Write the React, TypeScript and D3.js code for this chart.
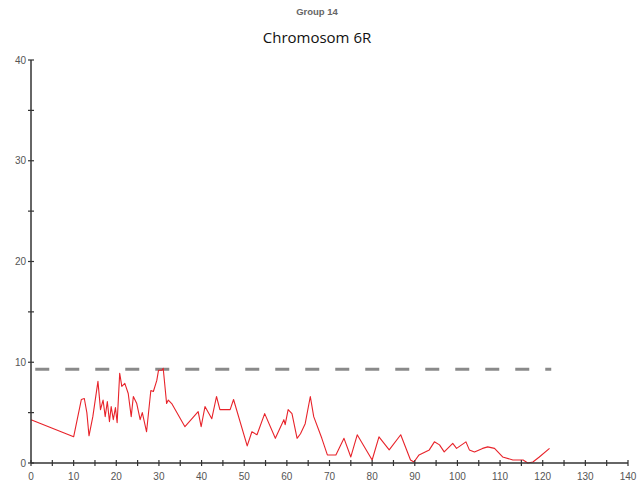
import React from "react";
import * as d3 from "d3";

// LOD profile along chromosome 6R (position in cM, LOD score)
const positions = [0, 10, 11.8, 12.5, 13.1, 13.6, 14.5, 15.7, 16.3, 16.9, 17.4, 17.9, 18.4, 18.8, 19.3, 19.8, 20.2, 20.8, 21.3, 22.0, 22.8, 23.5, 24.0, 24.8, 25.6, 26.1, 27.1, 28.1, 28.7, 29.5, 29.9, 30.7, 31.0, 31.8, 32.2, 33.0, 36.1, 39.2, 39.9, 40.8, 42.4, 43.5, 44.3, 46.7, 47.5, 50.7, 51.8, 53.0, 54.8, 57.3, 59.3, 59.6, 60.3, 61.2, 62.4, 63.2, 64.3, 65.5, 66.3, 68.2, 69.5, 71.5, 73.4, 75.0, 76.5, 80.0, 81.6, 84.0, 86.7, 89.0, 89.8, 91.0, 93.4, 94.6, 95.8, 96.9, 98.9, 99.8, 102.0, 102.8, 104.0, 105.9, 107.1, 108.7, 110.6, 113.0, 115.4, 116.5, 117.7, 119.2, 121.6];
const lodScores = [4.3, 2.6, 6.3, 6.4, 5.0, 2.7, 4.6, 8.1, 5.3, 6.25, 4.6, 6.1, 4.1, 5.6, 4.3, 5.5, 4.0, 8.9, 7.6, 7.9, 6.9, 4.6, 6.6, 5.9, 4.3, 5.0, 3.1, 7.2, 7.1, 8.2, 9.2, 9.2, 9.4, 5.9, 6.25, 5.9, 3.6, 5.1, 3.6, 5.6, 4.4, 6.6, 5.3, 5.3, 6.3, 1.7, 3.1, 2.8, 4.9, 2.45, 4.3, 3.8, 5.3, 4.9, 2.45, 2.9, 3.9, 6.6, 4.6, 2.45, 0.8, 0.8, 2.45, 0.6, 2.8, 0.3, 2.6, 1.3, 2.8, 0.3, 0.1, 0.8, 1.3, 2.1, 1.8, 1.1, 1.95, 1.45, 2.1, 1.3, 1.1, 1.45, 1.6, 1.45, 0.6, 0.3, 0.3, 0.0, 0.1, 0.6, 1.45];

// Significance threshold and the span it is drawn over
const threshold = 9.3;
const thresholdSpan = [1, 122];

const xTicks = d3.range(0, 141, 5);
const xLabels = d3.range(0, 141, 10);
const yTicks = d3.range(0, 41, 5);
const yLabels = d3.range(0, 41, 10);

const title = "Group 14";
const subtitle = "Chromosom 6R";

export default function App() {
  const width = 641;
  const height = 490;
  const x = d3.scaleLinear().domain([0, 140]).range([31, 628]);
  const y = d3.scaleLinear().domain([0, 40]).range([463, 60]);

  const line = d3
    .line<number>()
    .x((_, i) => x(positions[i]))
    .y((d) => y(d));

  const axisColor = "#333";
  const labelColor = "#555";

  return (
    <svg
      width={width}
      height={height}
      style={{ position: "absolute", left: 0, top: 0, background: "#fff" }}
    >
      <text
        x={317}
        y={15}
        textAnchor="middle"
        fontFamily="Liberation Sans, Arial, sans-serif"
        fontWeight="bold"
        fontSize={9.5}
        fill="#666"
      >
        {title}
      </text>
      <text
        x={317}
        y={43}
        textAnchor="middle"
        fontFamily="Open Sans, Noto Sans, sans-serif"
        fontSize={15}
        fill="#111"
      >
        {subtitle}
      </text>

      {/* threshold */}
      <line
        x1={x(thresholdSpan[0])}
        x2={x(thresholdSpan[1])}
        y1={y(threshold)}
        y2={y(threshold)}
        stroke="#8a8a8a"
        strokeWidth={3}
        strokeDasharray="14 16"
      />

      {/* LOD curve */}
      <path d={line(lodScores) || ""} fill="none" stroke="#e8232a" strokeWidth={1.1} strokeLinejoin="round" />

      {/* axes */}
      <line x1={x(0)} x2={x(0)} y1={y(40)} y2={y(0)} stroke={axisColor} strokeWidth={1.5} />
      <line x1={x(0)} x2={x(140)} y1={y(0)} y2={y(0)} stroke={axisColor} strokeWidth={1.5} />
      {yTicks.map((t) => (
        <line key={"yt" + t} x1={x(0) - 3} x2={x(0) + 3} y1={y(t)} y2={y(t)} stroke={axisColor} strokeWidth={1.2} />
      ))}
      {xTicks.map((t) => (
        <line key={"xt" + t} x1={x(t)} x2={x(t)} y1={y(0) - 3} y2={y(0) + 3} stroke={axisColor} strokeWidth={1.2} />
      ))}
      {yLabels.map((t) => (
        <text
          key={"yl" + t}
          x={x(0) - 5}
          y={y(t) + 3.5}
          textAnchor="end"
          fontFamily="Liberation Sans, Arial, sans-serif"
          fontSize={10}
          fill={labelColor}
        >
          {t}
        </text>
      ))}
      {xLabels.map((t) => (
        <text
          key={"xl" + t}
          x={x(t)}
          y={480}
          textAnchor="middle"
          fontFamily="Liberation Sans, Arial, sans-serif"
          fontSize={10}
          fill={labelColor}
        >
          {t}
        </text>
      ))}
    </svg>
  );
}
